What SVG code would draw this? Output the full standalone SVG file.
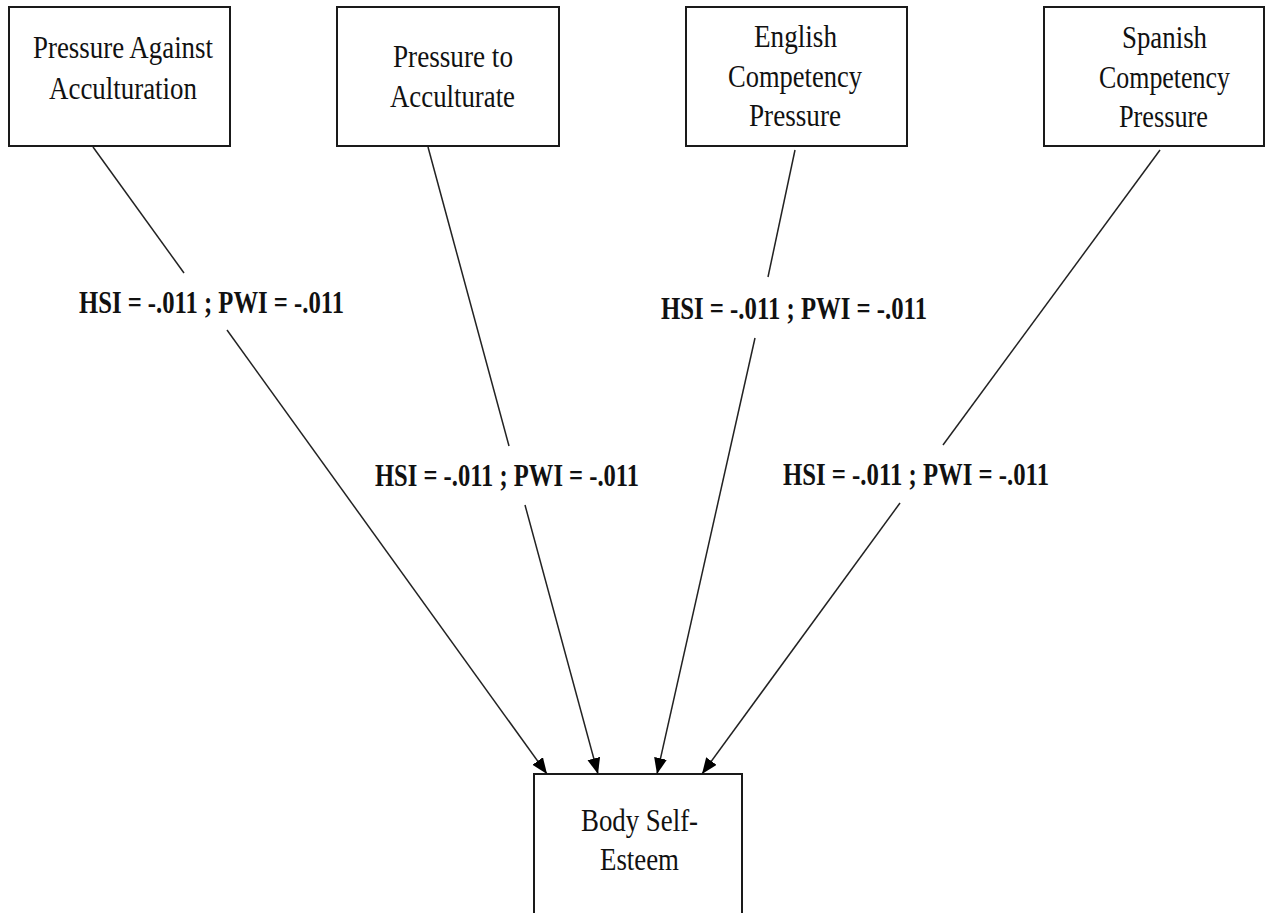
<svg xmlns="http://www.w3.org/2000/svg" width="1265" height="913" viewBox="0 0 1265 913">
<style>
.box{fill:#fff;stroke:#1a1a1a;stroke-width:2}
.t{font-family:"Liberation Serif","Times New Roman",serif;font-size:32px;fill:#111}
.lbl{font-family:"Liberation Serif","Times New Roman",serif;font-size:32px;font-weight:bold;fill:#111}
.ln{stroke:#222;stroke-width:1.5;fill:none}
</style>
<defs>
<marker id="ah" markerUnits="userSpaceOnUse" markerWidth="18" markerHeight="14" refX="16" refY="6.5" orient="auto">
<path d="M0,0 L16,6.5 L0,13 Z" fill="#000"/>
</marker>
</defs>
<rect width="1265" height="913" fill="#fff"/>
<g id="n1">
<rect class="box" x="9" y="7" width="221" height="139"/>
<text class="t" x="33" y="58" textLength="180" lengthAdjust="spacingAndGlyphs">Pressure Against</text>
<text class="t" x="49" y="99" textLength="148" lengthAdjust="spacingAndGlyphs">Acculturation</text>
</g>
<g id="n2">
<rect class="box" x="337" y="7" width="222" height="139"/>
<text class="t" x="393" y="67" textLength="120" lengthAdjust="spacingAndGlyphs">Pressure to</text>
<text class="t" x="390" y="107" textLength="125" lengthAdjust="spacingAndGlyphs">Acculturate</text>
</g>
<g id="n3">
<rect class="box" x="686" y="7" width="221" height="139"/>
<text class="t" x="754" y="47" textLength="83" lengthAdjust="spacingAndGlyphs">English</text>
<text class="t" x="728" y="87" textLength="134" lengthAdjust="spacingAndGlyphs">Competency</text>
<text class="t" x="749" y="126" textLength="92" lengthAdjust="spacingAndGlyphs">Pressure</text>
</g>
<g id="n4">
<rect class="box" x="1044" y="7" width="220" height="139"/>
<text class="t" x="1122" y="48" textLength="85" lengthAdjust="spacingAndGlyphs">Spanish</text>
<text class="t" x="1099" y="88" textLength="131" lengthAdjust="spacingAndGlyphs">Competency</text>
<text class="t" x="1119" y="127" textLength="89" lengthAdjust="spacingAndGlyphs">Pressure</text>
</g>
<g id="n5">
<rect class="box" x="534" y="774" width="208" height="160"/>
<text class="t" x="581" y="831" textLength="117" lengthAdjust="spacingAndGlyphs">Body Self-</text>
<text class="t" x="600" y="870" textLength="79" lengthAdjust="spacingAndGlyphs">Esteem</text>
</g>
<g id="connectors">
<line class="ln" x1="93" y1="147" x2="184" y2="273"/>
<line class="ln" x1="227" y1="330" x2="547" y2="774" marker-end="url(#ah)"/>
<line class="ln" x1="428" y1="147" x2="509" y2="446"/>
<line class="ln" x1="525" y1="505" x2="598" y2="774" marker-end="url(#ah)"/>
<line class="ln" x1="795" y1="150" x2="768" y2="277"/>
<line class="ln" x1="755" y1="338" x2="657" y2="774" marker-end="url(#ah)"/>
<line class="ln" x1="1160" y1="150" x2="943" y2="445"/>
<line class="ln" x1="900" y1="503" x2="702" y2="774" marker-end="url(#ah)"/>
<text class="lbl" x="79" y="313" textLength="265" lengthAdjust="spacingAndGlyphs">HSI = -.011 ; PWI = -.011</text>
<text class="lbl" x="375" y="486" textLength="264" lengthAdjust="spacingAndGlyphs">HSI = -.011 ; PWI = -.011</text>
<text class="lbl" x="661" y="319" textLength="266" lengthAdjust="spacingAndGlyphs">HSI = -.011 ; PWI = -.011</text>
<text class="lbl" x="783" y="485" textLength="266" lengthAdjust="spacingAndGlyphs">HSI = -.011 ; PWI = -.011</text>
</g>
</svg>
